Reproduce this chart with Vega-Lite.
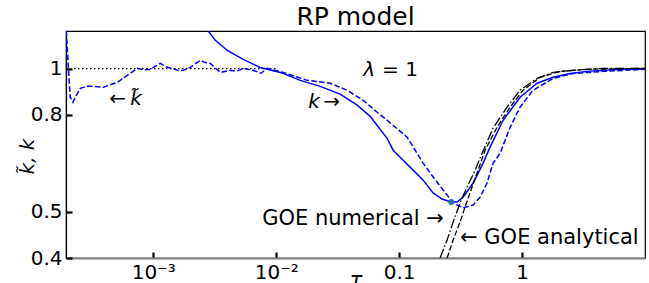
{
  "$schema": "https://vega.github.io/schema/vega-lite/v6.json",
  "autosize": {"type": "none"},
  "padding": {"left": 66, "top": 31, "right": 4, "bottom": 25},
  "width": 579,
  "height": 227,
  "title": {"text": "RP model", "font": "DejaVu Sans", "fontSize": 25, "fontWeight": "normal", "color": "black", "anchor": "middle", "frame": "group", "baseline": "alphabetic", "offset": 4, "dy": 23},
  "config": {"view": {"stroke": "black", "strokeWidth": 1.2}, "font": "DejaVu Sans"},
  "datasets": {
    "ref": [{"x": 0.000195, "y": 1}, {"x": 0.01, "y": 1}],
    "ktilde": [
      {"x": 0.000196, "y": 1.2}, {"x": 0.000204, "y": 1.006}, {"x": 0.000211, "y": 0.871}, {"x": 0.000222, "y": 0.85},
      {"x": 0.000237, "y": 0.879}, {"x": 0.000255, "y": 0.909}, {"x": 0.000285, "y": 0.918}, {"x": 0.000325, "y": 0.918},
      {"x": 0.000392, "y": 0.914}, {"x": 0.00051, "y": 0.936}, {"x": 0.000615, "y": 0.968}, {"x": 0.000741, "y": 1.0015},
      {"x": 0.000846, "y": 0.994}, {"x": 0.000946, "y": 0.997}, {"x": 0.00114, "y": 1.026}, {"x": 0.00128, "y": 1.008},
      {"x": 0.00145, "y": 1.0}, {"x": 0.00162, "y": 0.99}, {"x": 0.00175, "y": 0.992}, {"x": 0.002, "y": 1.006},
      {"x": 0.00241, "y": 1.041}, {"x": 0.00265, "y": 1.03}, {"x": 0.00291, "y": 1.026}, {"x": 0.00351, "y": 0.982},
      {"x": 0.00423, "y": 0.992}, {"x": 0.0048, "y": 0.988}, {"x": 0.00539, "y": 1.0015}, {"x": 0.0065, "y": 0.992},
      {"x": 0.0075, "y": 0.978}, {"x": 0.00845, "y": 1.0015}, {"x": 0.0114, "y": 0.982}, {"x": 0.0179, "y": 0.945},
      {"x": 0.0275, "y": 0.932}, {"x": 0.0378, "y": 0.901}, {"x": 0.051, "y": 0.858}, {"x": 0.0662, "y": 0.81},
      {"x": 0.0798, "y": 0.779}, {"x": 0.116, "y": 0.718}, {"x": 0.1567, "y": 0.633}, {"x": 0.189, "y": 0.592},
      {"x": 0.228, "y": 0.556}, {"x": 0.275, "y": 0.522}, {"x": 0.331, "y": 0.51}, {"x": 0.4, "y": 0.517},
      {"x": 0.456, "y": 0.537}, {"x": 0.519, "y": 0.575}, {"x": 0.581, "y": 0.633}, {"x": 0.663, "y": 0.664},
      {"x": 0.799, "y": 0.753}, {"x": 0.963, "y": 0.83}, {"x": 1.229, "y": 0.901}, {"x": 1.786, "y": 0.954},
      {"x": 2.6, "y": 0.977}, {"x": 4.56, "y": 0.987}, {"x": 10, "y": 0.997}
    ],
    "k": [
      {"x": 0.0028, "y": 1.2}, {"x": 0.0032, "y": 1.147}, {"x": 0.004, "y": 1.092},
      {"x": 0.0054, "y": 1.046}, {"x": 0.0074, "y": 1.006}, {"x": 0.0108, "y": 0.982}, {"x": 0.0157, "y": 0.945},
      {"x": 0.0228, "y": 0.918}, {"x": 0.0331, "y": 0.884}, {"x": 0.0456, "y": 0.838}, {"x": 0.0581, "y": 0.794},
      {"x": 0.0798, "y": 0.714}, {"x": 0.0894, "y": 0.674}, {"x": 0.1078, "y": 0.642}, {"x": 0.13, "y": 0.612},
      {"x": 0.1567, "y": 0.583}, {"x": 0.189, "y": 0.548}, {"x": 0.2238, "y": 0.532}, {"x": 0.265, "y": 0.5245},
      {"x": 0.296, "y": 0.5245}, {"x": 0.331, "y": 0.537}, {"x": 0.4, "y": 0.575}, {"x": 0.482, "y": 0.633},
      {"x": 0.549, "y": 0.684}, {"x": 0.701, "y": 0.779}, {"x": 0.963, "y": 0.871}, {"x": 1.324, "y": 0.932},
      {"x": 1.786, "y": 0.959}, {"x": 2.456, "y": 0.977}, {"x": 3.377, "y": 0.987}, {"x": 6.26, "y": 0.997}, {"x": 10, "y": 0.997}
    ],
    "goenum": [
      {"x": 0.2155, "y": 0.4}, {"x": 0.2456, "y": 0.4365}, {"x": 0.275, "y": 0.476},
      {"x": 0.313, "y": 0.522}, {"x": 0.357, "y": 0.564}, {"x": 0.415, "y": 0.612}, {"x": 0.473, "y": 0.664},
      {"x": 0.581, "y": 0.75}, {"x": 0.755, "y": 0.83}, {"x": 0.963, "y": 0.901}, {"x": 1.324, "y": 0.954},
      {"x": 1.786, "y": 0.982}, {"x": 2.6, "y": 0.992}, {"x": 4.56, "y": 1.0015}, {"x": 10, "y": 1.0015}
    ],
    "goeana": [
      {"x": 0.2456, "y": 0.4}, {"x": 0.275, "y": 0.4365}, {"x": 0.313, "y": 0.476},
      {"x": 0.344, "y": 0.512}, {"x": 0.392, "y": 0.564}, {"x": 0.439, "y": 0.612}, {"x": 0.5, "y": 0.674},
      {"x": 0.626, "y": 0.753}, {"x": 0.799, "y": 0.83}, {"x": 1.019, "y": 0.901}, {"x": 1.4, "y": 0.959},
      {"x": 2.037, "y": 0.987}, {"x": 3.377, "y": 0.997}, {"x": 10, "y": 1.0015}
    ],
    "dot": [{"x": 0.265, "y": 0.5245}],
    "biglabels": [
      {"x": 0.00769, "y": 0.483, "label": "GOE numerical →"},
      {"x": 0.313, "y": 0.4406, "label": "← GOE analytical"}
    ],
    "labels": [
      {"x": 0.0727, "y": 0.992, "label": "= 1"},
      {"x": 0.0241, "y": 0.85, "label": "→"},
      {"x": 0.000439, "y": 0.862, "label": "←"}
    ],
    "italics": [
      {"x": 0.051, "y": 0.992, "label": "λ"},
      {"x": 0.0182, "y": 0.85, "label": "k"},
      {"x": 0.00065, "y": 0.862, "label": "k̃"}
    ]
  },
  "encoding": {
    "x": {
      "field": "x", "type": "quantitative",
      "scale": {"type": "log", "domain": [0.000195, 10], "nice": false},
      "axis": {
        "values": [0.001, 0.01, 0.1, 1],
        "labelExpr": "datum.value < 0.005 ? '10⁻³' : datum.value < 0.05 ? '10⁻²' : datum.value < 0.5 ? '0.1' : '1'",
        "grid": false, "tickSize": -6, "tickWidth": 2.2, "tickColor": "black",
        "domainColor": "#808080", "domainWidth": 2,
        "labelFont": "DejaVu Sans", "labelFontSize": 20, "labelColor": "black", "labelPadding": 10, "labelFlush": false,
        "title": "τ", "titleFont": "DejaVu Sans", "titleFontStyle": "italic", "titleFontWeight": "normal", "titleFontSize": 21,
        "titleColor": "black", "titleBaseline": "alphabetic", "titleY": 28
      }
    },
    "y": {
      "field": "y", "type": "quantitative",
      "scale": {"type": "log", "domain": [0.4, 1.2], "nice": false},
      "axis": {
        "values": [0.4, 0.5, 0.8, 1],
        "labelExpr": "datum.value == 1 ? '1' : format(datum.value, '.1f')",
        "grid": false, "tickSize": -6, "tickWidth": 2.2, "tickColor": "black",
        "domainColor": "black", "domainWidth": 1.2,
        "labelFont": "DejaVu Sans", "labelFontSize": 20, "labelColor": "black", "labelPadding": 10,
        "labelFlush": false,
        "title": "k̃, k", "titleFont": "DejaVu Sans", "titleFontStyle": "italic", "titleFontWeight": "normal", "titleFontSize": 20,
        "titleColor": "black", "titleBaseline": "alphabetic", "titleAlign": "center", "titleAngle": -90, "titleX": -33, "titleY": 125
      }
    }
  },
  "layer": [
    {"data": {"name": "ref"}, "mark": {"type": "line", "color": "black", "strokeWidth": 1.2, "strokeDash": [1.5, 2.5], "clip": true}},
    {"data": {"name": "ktilde"}, "mark": {"type": "line", "color": "#0000ff", "strokeWidth": 1.5, "strokeDash": [5.5, 2.4], "clip": true}},
    {"data": {"name": "k"}, "mark": {"type": "line", "color": "#0000ff", "strokeWidth": 1.5, "clip": true}},
    {"data": {"name": "goenum"}, "mark": {"type": "line", "color": "black", "strokeWidth": 1.3, "strokeDash": [9.6, 2.4, 1.5, 2.4], "clip": true}},
    {"data": {"name": "goeana"}, "mark": {"type": "line", "color": "black", "strokeWidth": 1.3, "strokeDash": [5.5, 2.4], "clip": true}},
    {"data": {"name": "dot"}, "mark": {"type": "point", "filled": true, "color": "#1f77b4", "size": 36, "opacity": 1}},
    {"data": {"name": "biglabels"}, "mark": {"type": "text", "align": "left", "baseline": "middle", "font": "DejaVu Sans", "fontSize": 21, "color": "black"}, "encoding": {"text": {"field": "label"}}},
    {"data": {"name": "labels"}, "mark": {"type": "text", "align": "left", "baseline": "middle", "font": "DejaVu Sans", "fontSize": 20, "color": "black"}, "encoding": {"text": {"field": "label"}}},
    {"data": {"name": "italics"}, "mark": {"type": "text", "align": "left", "baseline": "middle", "font": "DejaVu Sans", "fontStyle": "italic", "fontSize": 20, "color": "black"}, "encoding": {"text": {"field": "label"}}}
  ]
}
